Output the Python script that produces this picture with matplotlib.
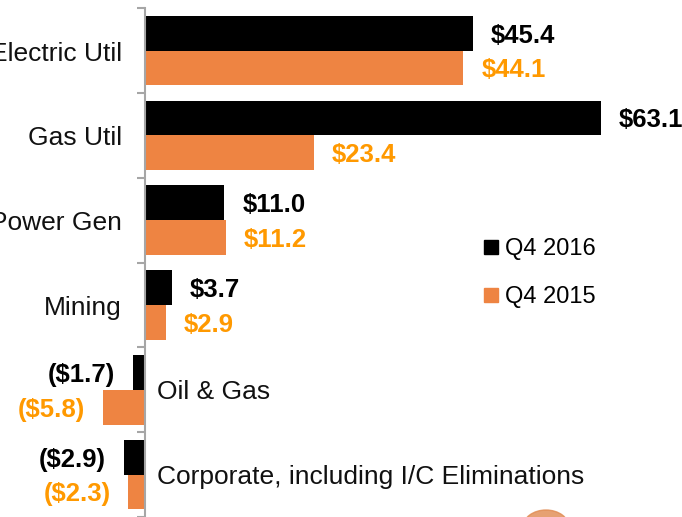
import matplotlib
matplotlib.use("Agg")
import matplotlib.pyplot as plt
from matplotlib.lines import Line2D
from matplotlib.patches import Ellipse
import numpy as np

categories = ["Electric Util", "Gas Util", "Power Gen", "Mining", "Oil & Gas",
              "Corporate, including I/C Eliminations"]
q4_2016 = [45.4, 63.1, 11.0, 3.7, -1.7, -2.9]
q4_2015 = [44.1, 23.4, 11.2, 2.9, -5.8, -2.3]
series_names = ["Q4 2016", "Q4 2015"]

BLACK = "#000000"
ORANGE_BAR = "#EE8442"
ORANGE_TXT = "#FF9900"

plt.rcParams['font.family'] = ['Liberation Sans', 'DejaVu Sans']

W, H = 682, 517
fig = plt.figure(figsize=(W / 100, H / 100), dpi=100)
ax = fig.add_axes([0, 0, 1, 1])

ppu = 7.22  # pixels per unit
x0 = 145
ax.set_xlim(-x0 / ppu, (W - x0) / ppu)
top_px, step = 8.3, 85.7
ax.set_ylim(-0.5 + (H - top_px) / step, -0.5 - top_px / step)

y = np.arange(len(categories))
h = 0.41
ax.barh(y - h / 2, q4_2016, height=h, color=BLACK, zorder=2)
ax.barh(y + h / 2, q4_2015, height=h, color=ORANGE_BAR, zorder=2)

for a in ax.spines.values():
    a.set_visible(False)
ax.spines['left'].set_visible(True)
ax.spines['left'].set_position(('data', 0))
ax.spines['left'].set_bounds(-0.5, len(categories) - 0.5)
ax.spines['left'].set_color("#a6a6a6")
ax.spines['left'].set_linewidth(1.5)
ax.spines['left'].set_zorder(3)
ax.set_yticks(np.arange(-0.5, len(categories), 1.0))
ax.set_yticklabels([])
ax.tick_params(axis='y', direction='out', length=5.5, width=1.5, color="#a6a6a6")
ax.set_xticks([])

def fmt(v):
    return f"${v:.1f}" if v >= 0 else f"(${-v:.1f})"

off = 18 / ppu
vshift = 2.5 / step
for i in range(len(categories)):
    for v, dy, col in ((q4_2016[i], -h / 2, BLACK), (q4_2015[i], h / 2, ORANGE_TXT)):
        if v >= 0:
            ax.text(v + off, i + dy + vshift, fmt(v), ha='left', va='center',
                    fontsize=18.5, fontweight='bold', color=col)
        else:
            ax.text(v - off, i + dy + vshift, fmt(v), ha='right', va='center',
                    fontsize=18.5, fontweight='bold', color=col)
    neg = min(q4_2016[i], q4_2015[i]) < 0 and max(q4_2016[i], q4_2015[i]) < 0
    if neg:
        ax.text(11.7 / ppu, i + 2 / step, categories[i], ha='left', va='center',
                fontsize=19, color="#111111")
    else:
        ax.text(-23 / ppu, i + 3 / step, categories[i], ha='right', va='center',
                fontsize=19, color="#111111")

handles = [Line2D([], [], marker='s', linestyle='none', markersize=9.5,
                  markerfacecolor=c, markeredgecolor=c) for c in (BLACK, ORANGE_BAR)]
fig.legend(handles, series_names, loc='upper left',
           bbox_to_anchor=(484 / W, 1 - 238 / H), frameon=False, fontsize=17,
           handlelength=0.6, handletextpad=0.3, labelspacing=1.1,
           borderpad=0, borderaxespad=0)

fig.patches.append(Ellipse((546 / W, 1 - 527 / H), 46 / W, 34 / H,
                           transform=fig.transFigure, color="#E08A50", alpha=0.8,
                           figure=fig))

fig.savefig("out.png", dpi=100)
